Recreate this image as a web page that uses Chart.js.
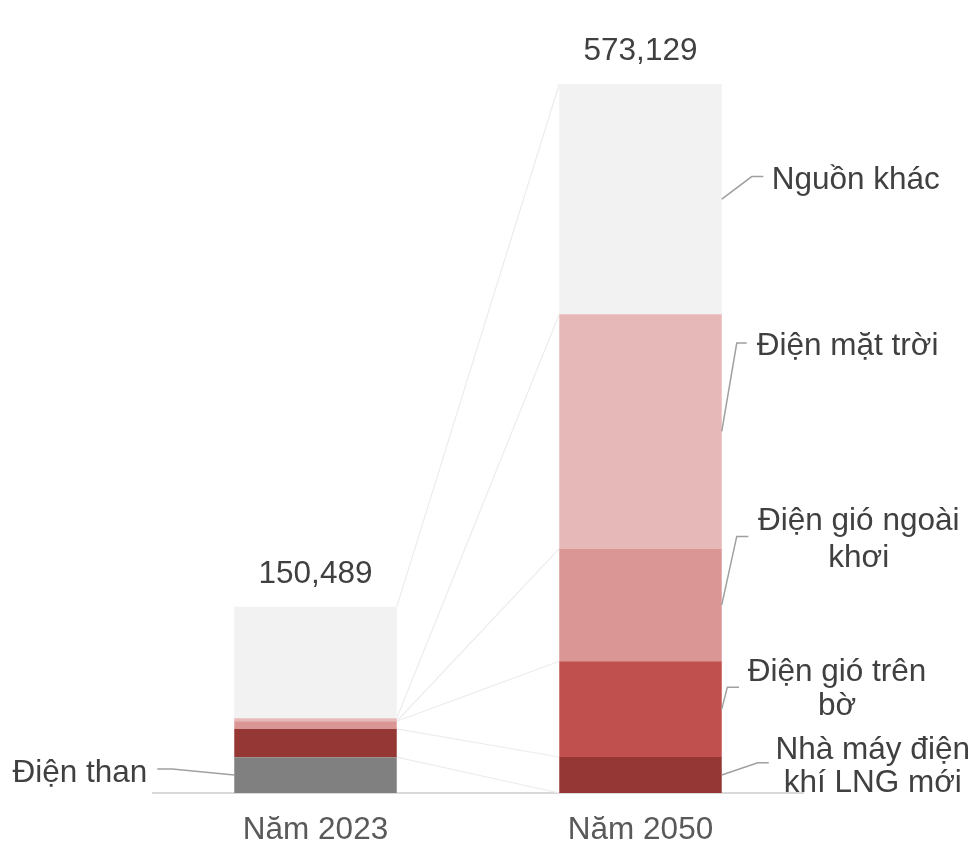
<!DOCTYPE html>
<html>
<head>
<meta charset="utf-8">
<script src="https://cdn.jsdelivr.net/npm/chart.js@4/dist/chart.umd.min.js"></script>
<style>
  html, body { margin: 0; padding: 0; background: #ffffff; }
  #c { display: block; }
</style>
</head>
<body>
<canvas id="c" width="978" height="845"></canvas>
<script>
// ---- data ----
const categories = ['Năm 2023', 'Năm 2050'];
const seriesNames = ['Điện than', 'Nhà máy điện khí LNG mới', 'Điện gió trên bờ', 'Điện gió ngoài khơi', 'Điện mặt trời', 'Nguồn khác'];
const coal     = [29000, 0];
const lng      = [22800, 29100];
const onshore  = [6200, 77400];
const offshore = [0, 91100];
const solar    = [2400, 189500];
const others   = [90089, 186029];
const totals   = [150489, 573129];
const totalLabels = ['150,489', '573,129'];
const labelLines = [
  ['Điện than'],
  ['Nhà máy điện', 'khí LNG mới'],
  ['Điện gió trên', 'bờ'],
  ['Điện gió ngoài', 'khơi'],
  ['Điện mặt trời'],
  ['Nguồn khác']
];

// ---- styles ----
const colors = [
  ['#808080', '#808080'],
  ['#953735', '#953735'],
  ['#d99694', '#c0504d'],
  ['#d99694', '#d99694'],
  ['#e6b9b8', '#e6b9b8'],
  ['#f2f2f2', '#f2f2f2']
];
const FONT = '31.5px "Liberation Sans", Arial, sans-serif';
const TEXT = '#404040';

// callout layout (offsets relative to the segment's edge midpoint)
const calloutLayout = [
  { ds: 0, idx: 0, side: 'left',  elbow: [-62, -6],    end: -77,  align: 'right',  tx: -87,   base: [6.7] },
  { ds: 1, idx: 1, side: 'right', elbow: [36, -12.3],  end: 47,   align: 'center', tx: 151,   base: [-15.7, 16.7] },
  { ds: 2, idx: 1, side: 'right', elbow: [5.6, -22],   end: 17.3, align: 'center', tx: 115.3, base: [-28, 6] },
  { ds: 3, idx: 1, side: 'right', elbow: [15, -68.5],  end: 26.6, align: 'center', tx: 137,   base: [-74.5, -38] },
  { ds: 4, idx: 1, side: 'right', elbow: [15, -88.3],  end: 25,   align: 'left',   tx: 35,    base: [-76] },
  { ds: 5, idx: 1, side: 'right', elbow: [30, -22.5],  end: 41.6, align: 'left',   tx: 50,    base: [-9.7] }
];

const seriesValues = [coal, lng, onshore, offshore, solar, others];

const overlayPlugin = {
  id: 'overlay',
  beforeDatasetsDraw(chart) {
    const ctx = chart.ctx;
    ctx.save();
    ctx.strokeStyle = '#ececec';
    ctx.lineWidth = 1.2;
    chart.data.datasets.forEach((ds, i) => {
      const m = chart.getDatasetMeta(i);
      const a = m.data[0], b = m.data[1];
      ctx.beginPath();
      ctx.moveTo(a.x + a.width / 2, a.y);
      ctx.lineTo(b.x - b.width / 2, b.y);
      ctx.stroke();
    });
    ctx.restore();
  },
  afterDatasetsDraw(chart) {
    const ctx = chart.ctx;
    const yScale = chart.scales.y;
    ctx.save();
    ctx.font = FONT;
    ctx.fillStyle = TEXT;
    ctx.textBaseline = 'alphabetic';
    // totals
    const topMeta = chart.getDatasetMeta(seriesValues.length - 1);
    totals.forEach((t, i) => {
      const el = topMeta.data[i];
      const yTop = yScale.getPixelForValue(t);
      ctx.textAlign = 'center';
      ctx.fillText(totalLabels[i], el.x, yTop - 24);
    });
    // callouts
    calloutLayout.forEach(c => {
      const el = chart.getDatasetMeta(c.ds).data[c.idx];
      const ax = c.side === 'right' ? el.x + el.width / 2 : el.x - el.width / 2;
      const ay = (el.y + el.base) / 2;
      ctx.strokeStyle = '#a0a0a0';
      ctx.lineWidth = 1.5;
      ctx.beginPath();
      ctx.moveTo(ax, ay);
      ctx.lineTo(ax + c.elbow[0], ay + c.elbow[1]);
      ctx.lineTo(ax + c.end, ay + c.elbow[1]);
      ctx.stroke();
      ctx.textAlign = c.align;
      labelLines[c.ds].forEach((line, k) => {
        ctx.fillText(line, ax + c.tx, ay + c.base[k]);
      });
    });
    ctx.restore();
  }
};

new Chart(document.getElementById('c'), {
  type: 'bar',
  data: {
    labels: categories,
    datasets: seriesValues.map((vals, i) => ({
      label: seriesNames[i],
      data: vals,
      backgroundColor: colors[i],
      borderWidth: 0,
      barPercentage: 0.5,
      categoryPercentage: 1.0
    }))
  },
  options: {
    responsive: false,
    animation: false,
    devicePixelRatio: 1,
    layout: { padding: { left: 153, right: 175, top: 84, bottom: 0 } },
    plugins: { legend: { display: false }, tooltip: { enabled: false } },
    scales: {
      x: {
        stacked: true,
        grid: { display: false, drawTicks: false },
        border: { display: true, color: '#d9d9d9', width: 2 },
        ticks: { color: '#595959', font: { family: '"Liberation Sans", Arial, sans-serif', size: 31.5 }, padding: 18, maxRotation: 0 },
        afterFit(s) { s.height = 52; }
      },
      y: {
        stacked: true,
        display: false,
        min: 0,
        max: totals[1]
      }
    }
  },
  plugins: [overlayPlugin]
});
</script>
</body>
</html>
